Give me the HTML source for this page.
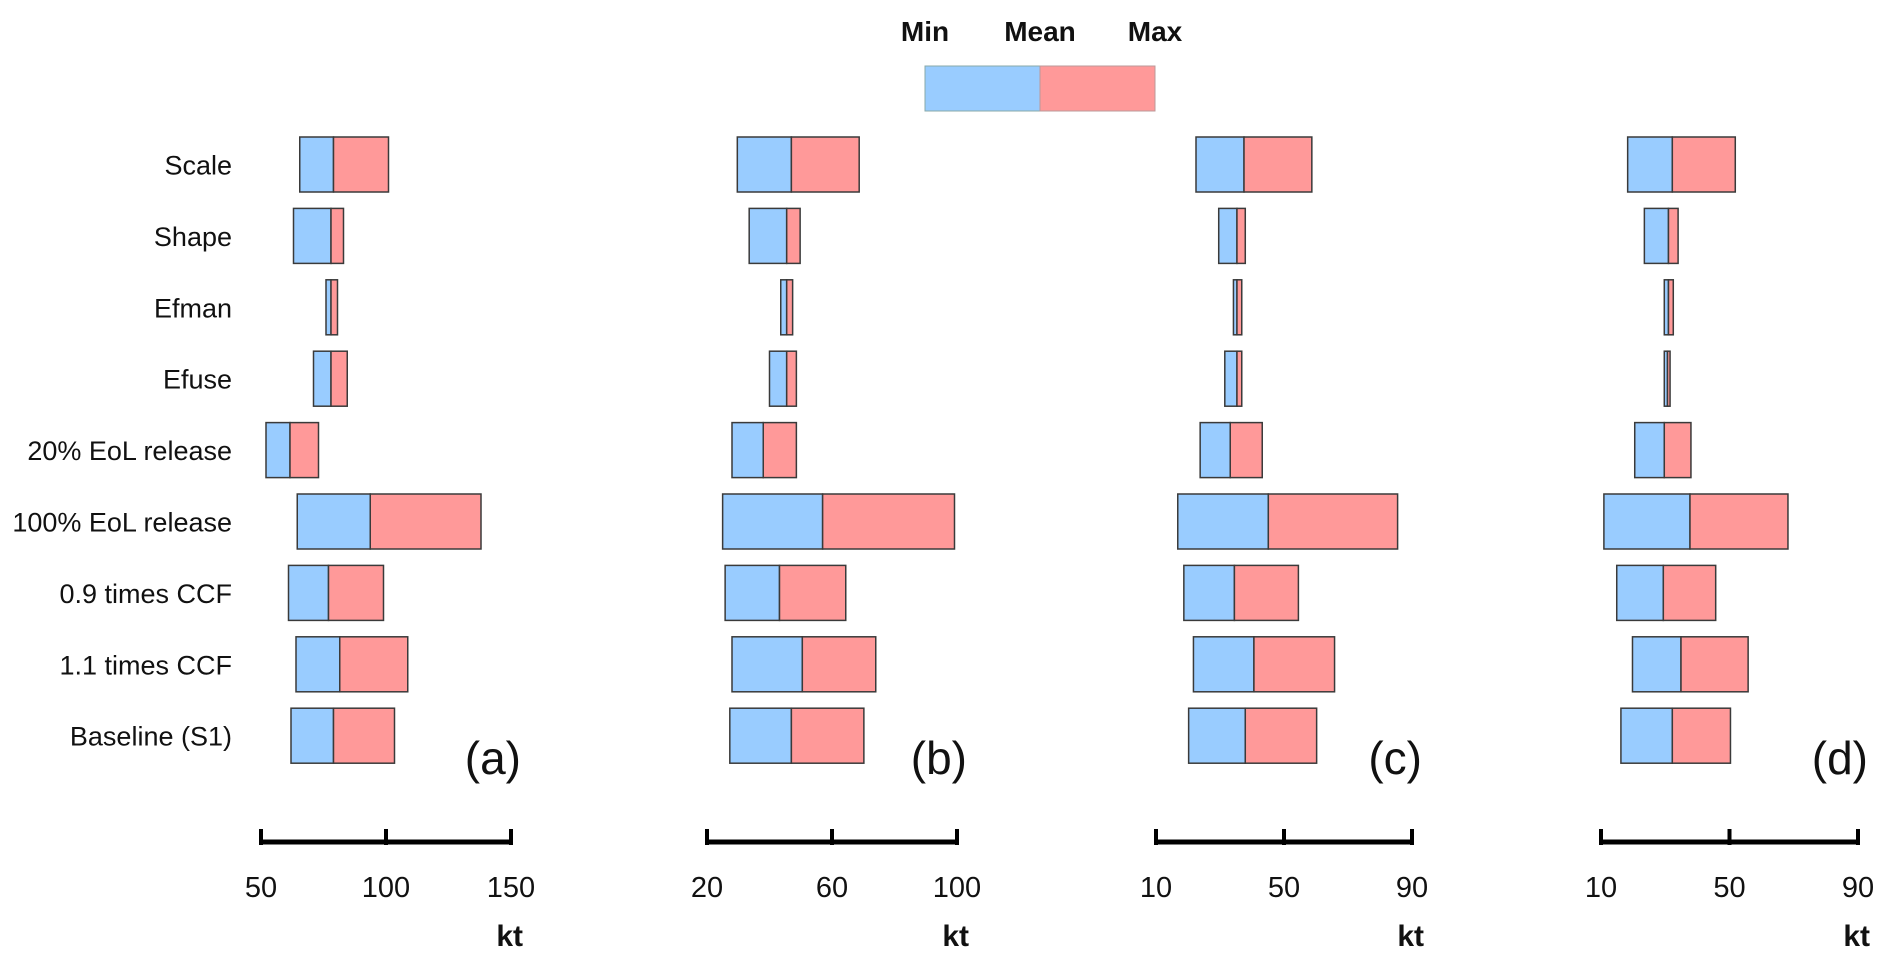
<!DOCTYPE html>
<html><head><meta charset="utf-8"><style>
html,body{margin:0;padding:0;background:#fff;}
svg{display:block;font-family:"Liberation Sans",sans-serif;}
</style></head><body>
<svg id="chart" width="1892" height="967" viewBox="0 0 1892 967"></svg>
<script>
const categories = ["Scale","Shape","Efman","Efuse","20% EoL release","100% EoL release","0.9 times CCF","1.1 times CCF","Baseline (S1)"];
const panelNames = ["(a)","(b)","(c)","(d)"];
const minA = [65.5,63,76,71,52,64.5,61,64,62];
const meanA = [79,78,78,78,61.6,93.7,77,81.5,79];
const maxA = [101,83,80.6,84.5,73,138,99,108.7,103.4];
const minB = [29.7,33.5,43.6,40,28,25,25.8,28,27.3];
const meanB = [47,45.5,45.5,45.5,38,57,43.2,50.5,47];
const maxB = [68.7,49.8,47.4,48.6,48.6,99.2,64.4,74,70.2];
const minC = [22.5,29.6,34.2,31.5,23.8,16.8,18.7,21.7,20.2];
const meanC = [37.5,35.3,35.3,35.3,33.2,45.1,34.5,40.6,37.9];
const maxC = [58.7,37.9,36.8,36.8,43.2,85.5,54.5,65.8,60.2];
const minD = [18.3,23.5,29.7,29.7,20.5,10.9,14.9,19.8,16.2];
const meanD = [32.2,31,31,30.7,29.7,37.7,29.4,34.9,32.2];
const maxD = [51.8,34,32.5,31.5,38,68.2,45.7,55.8,50.3];
const ticksA = [50,100,150];
const ticksB = [20,60,100];
const ticksC = [10,50,90];
const ticksD = [10,50,90];

const NS="http://www.w3.org/2000/svg";
const svg=document.getElementById('chart');
function mk(tag,attrs,parent){const e=document.createElementNS(NS,tag);for(const k in attrs)e.setAttribute(k,attrs[k]);(parent||svg).appendChild(e);return e;}

const panels=[
 {mins:minA,means:meanA,maxs:maxA,ticks:ticksA,x0:261,x1:511},
 {mins:minB,means:meanB,maxs:maxB,ticks:ticksB,x0:707,x1:957},
 {mins:minC,means:meanC,maxs:maxC,ticks:ticksC,x0:1156,x1:1412},
 {mins:minD,means:meanD,maxs:maxD,ticks:ticksD,x0:1601,x1:1858}
];
const rowY=i=>164.5+71.4*i;
const barH=55;
const BLUE="#99CCFF", RED="#FF9999", STROKE="#3a3a3a";

categories.forEach((c,i)=>{
  const t=mk('text',{x:232,y:rowY(i)+10,'text-anchor':'end','font-size':27,fill:'#111'});
  t.textContent=c;
  
  
});

panels.forEach((p,pi)=>{
  const g=mk('g',{});
  
  
  const lo=p.ticks[0], hi=p.ticks[p.ticks.length-1];
  const sx=v=>p.x0+(v-lo)/(hi-lo)*(p.x1-p.x0);
  categories.forEach((c,i)=>{
    const y=rowY(i)-barH/2;
    const b=mk('rect',{x:sx(p.mins[i]),y:y,width:sx(p.means[i])-sx(p.mins[i]),height:barH,fill:BLUE,stroke:STROKE,'stroke-width':1.5},g);
    
    
    const r=mk('rect',{x:sx(p.means[i]),y:y,width:sx(p.maxs[i])-sx(p.means[i]),height:barH,fill:RED,stroke:STROKE,'stroke-width':1.5},g);
    
    
  });
  const ax=mk('line',{x1:p.x0,x2:p.x1,y1:842,y2:842,stroke:'#000','stroke-width':5},g);
  
  
  p.ticks.forEach(t=>{
    const x=sx(t);
    const tk=mk('line',{x1:x,x2:x,y1:829,y2:845,stroke:'#000','stroke-width':4},g);
    
    
    const tl=mk('text',{x:x,y:897,'text-anchor':'middle','font-size':29,fill:'#111'},g);
    tl.textContent=t;
    
    
  });
  const kt=mk('text',{x:p.x1+12,y:946,'text-anchor':'end','font-size':30,'font-weight':'bold',fill:'#111'},g);
  kt.textContent='kt';
  
  
  const pl=mk('text',{x:p.x1+10,y:774,'text-anchor':'end','font-size':46,fill:'#111'},g);
  pl.textContent=panelNames[pi];
  
  
});

const lg=mk('g',{});


const lb=mk('rect',{x:925,y:66,width:115,height:45,fill:BLUE,stroke:'#8aa',"stroke-width":1},lg);


const lr=mk('rect',{x:1040,y:66,width:115,height:45,fill:RED,stroke:'#b99',"stroke-width":1},lg);


[["Min",925],["Mean",1040],["Max",1155]].forEach(([s,x])=>{
  const t=mk('text',{x:x,y:41,'text-anchor':'middle','font-size':28,'font-weight':'bold',fill:'#111'},lg);
  t.textContent=s;
  
  
});
</script>
</body></html>
